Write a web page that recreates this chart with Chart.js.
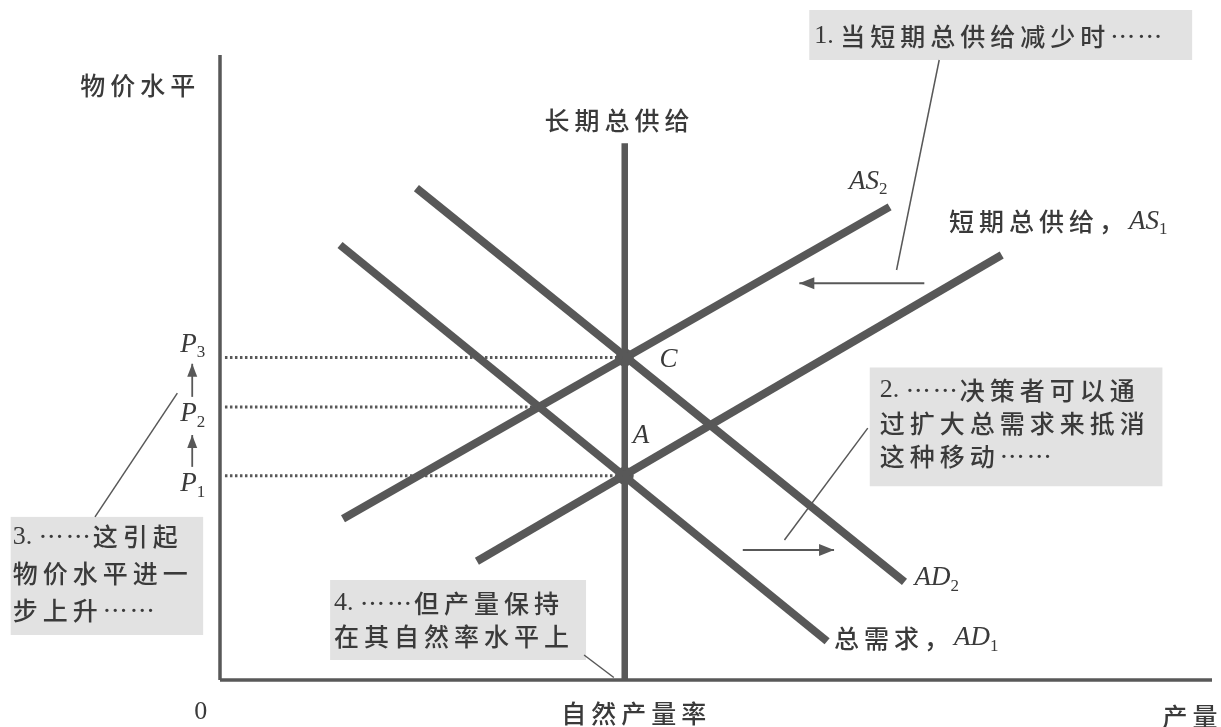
<!DOCTYPE html>
<html><head><meta charset="utf-8">
<script src="https://cdn.jsdelivr.net/npm/chart.js@4.4.1/dist/chart.umd.min.js"></script>
<style>html,body{margin:0;padding:0;background:#fff;}#wrap{width:1221px;height:727px;}</style>
</head><body><div id="wrap"><canvas id="c" width="1221" height="727"></canvas></div>
<script>
// ---- data (economic units: output on x, price level on y) ----
const AXIS_X = [{x:0,y:0},{x:100,y:0}];
const AXIS_Y = [{x:0,y:100},{x:0,y:0}];
const LRAS = [{x:40.8,y:85.9},{x:40.8,y:0}];
const AD1 = [{x:12.1,y:69.6},{x:61.2,y:6.2}];
const AD2 = [{x:19.8,y:78.7},{x:69.0,y:15.7}];
const AS1 = [{x:25.9,y:19.0},{x:78.8,y:68.0}];
const AS2 = [{x:12.4,y:25.8},{x:67.5,y:75.7}];
const P1_LINE = [{x:0.5,y:32.7},{x:40.8,y:32.7}];
const P2_LINE = [{x:0.5,y:43.7},{x:32.2,y:43.7}];
const P3_LINE = [{x:0.5,y:51.6},{x:40.8,y:51.6}];
const EQ_POINTS = [{x:40.8,y:32.7},{x:40.8,y:51.6}];
// arrows (tail -> head) and leader lines
const ARROW_AS = [{x:71.0,y:63.5},{x:58.4,y:63.5}];
const ARROW_AD = [{x:52.7,y:20.8},{x:61.9,y:20.8}];
const ARROW_P12 = [{x:-2.8,y:34.1},{x:-2.8,y:39.2}];
const ARROW_P23 = [{x:-2.8,y:45.3},{x:-2.8,y:50.6}];
const LEAD1 = [{x:72.5,y:99.2},{x:68.2,y:65.6}];
const LEAD2 = [{x:56.9,y:22.4},{x:65.3,y:40.3}];
const LEAD3 = [{x:-12.6,y:26.1},{x:-4.3,y:45.9}];
const LEAD4 = [{x:36.7,y:4.0},{x:39.7,y:0.4}];
// text boxes [x0, y0, x1, y1]
const BOXES = [[59.4,107.2,98.0,99.2],[65.5,50.0,95.0,31.0],[-21.1,26.1,-1.7,7.2],[11.1,16.0,36.9,3.2]];

const CJK = '"Noto Sans CJK SC", sans-serif';
const SERIF = '"Liberation Serif", "DejaVu Serif", serif';
const INK = '#3a3a3a', LINE = '#585858';

const seg = (t, kind) => ({t, kind: kind || 'cjk'});
const LABELS = [
  {x:-14.1, y:95.2, parts:[seg('物价水平')]},
  {x:32.7, y:89.6, parts:[seg('长期总供给')]},
  {x:59.9, y:103.0, parts:[seg('1. ','rm'),seg('当短期总供给减少时'),seg('……','el')]},
  {x:63.4, y:79.7, parts:[seg('AS','it'),seg('2','sub')]},
  {x:73.5, y:73.3, parts:[seg('短期总供给，'),seg('AS','it'),seg('1','sub')]},
  {x:44.3, y:51.2, parts:[seg('C','it')]},
  {x:41.6, y:39.0, parts:[seg('A','it')]},
  {x:66.5, y:46.4, parts:[seg('2. ','rm'),seg('……','el'),seg('决策者可以通')]},
  {x:66.5, y:41.1, parts:[seg('过扩大总需求来抵消')]},
  {x:66.5, y:35.7, parts:[seg('这种移动'),seg('……','el')]},
  {x:70.0, y:16.3, parts:[seg('AD','it'),seg('2','sub')]},
  {x:61.9, y:6.7, parts:[seg('总需求，'),seg('AD','it'),seg('1','sub')]},
  {x:-20.9, y:22.9, parts:[seg('3. ','rm'),seg('……','el'),seg('这引起')]},
  {x:-20.9, y:17.1, parts:[seg('物价水平进一')]},
  {x:-20.9, y:11.2, parts:[seg('步上升'),seg('……','el')]},
  {x:11.5, y:12.3, parts:[seg('4. ','rm'),seg('……','el'),seg('但产量保持')]},
  {x:11.5, y:6.9, parts:[seg('在其自然率水平上')]},
  {x:-4.0, y:53.6, parts:[seg('P','it'),seg('3','sub')]},
  {x:-4.0, y:42.5, parts:[seg('P','it'),seg('2','sub')]},
  {x:-4.0, y:31.3, parts:[seg('P','it'),seg('1','sub')]},
  {x:-2.6, y:-5.1, parts:[seg('0','rm')]},
  {x:34.4, y:-5.3, parts:[seg('自然产量率')]},
  {x:95.0, y:-5.9, parts:[seg('产量')]}
];

function line(data, w, extra) {
  return Object.assign({data, showLine:true, borderColor:LINE, borderWidth:w, pointRadius:0,
    fill:false, clip:false, borderCapStyle:'butt'}, extra || {});
}

const annot = {
  id:'annot',
  beforeDatasetsDraw(chart) {
    const {ctx} = chart, sx = chart.scales.x, sy = chart.scales.y;
    ctx.save();
    ctx.fillStyle = '#e2e2e2';
    BOXES.forEach(b => {
      const x0 = sx.getPixelForValue(b[0]), y0 = sy.getPixelForValue(b[1]);
      const x1 = sx.getPixelForValue(b[2]), y1 = sy.getPixelForValue(b[3]);
      ctx.fillRect(x0, y0, x1 - x0, y1 - y0);
    });
    ctx.restore();
  },
  afterDatasetsDraw(chart) {
    const {ctx} = chart, sx = chart.scales.x, sy = chart.scales.y;
    ctx.save();
    [[ARROW_AS,15,6],[ARROW_AD,15,6],[ARROW_P12,13,5],[ARROW_P23,13,5]].forEach(([a,len,half]) => {
      const tx = sx.getPixelForValue(a[0].x), ty = sy.getPixelForValue(a[0].y);
      const hx = sx.getPixelForValue(a[1].x), hy = sy.getPixelForValue(a[1].y);
      const ang = Math.atan2(hy - ty, hx - tx);
      ctx.fillStyle = LINE;
      ctx.beginPath();
      ctx.moveTo(hx, hy);
      ctx.lineTo(hx - len*Math.cos(ang) + half*Math.sin(ang), hy - len*Math.sin(ang) - half*Math.cos(ang));
      ctx.lineTo(hx - len*Math.cos(ang) - half*Math.sin(ang), hy - len*Math.sin(ang) + half*Math.cos(ang));
      ctx.closePath(); ctx.fill();
    });
    ctx.fillStyle = INK;
    ctx.textBaseline = 'middle';
    LABELS.forEach(L => {
      let px = sx.getPixelForValue(L.x);
      const py = sy.getPixelForValue(L.y);
      L.parts.forEach(p => {
        let font, dy = 0, ls = '0px';
        if (p.kind === 'cjk') { font = '500 25px ' + CJK; ls = '5px'; }
        else if (p.kind === 'el') { font = '25px ' + CJK; ls = '2px'; dy = 0; }
        else if (p.kind === 'it') { font = 'italic 27px ' + SERIF; }
        else if (p.kind === 'sub') { font = '17px ' + SERIF; dy = 8; }
        else { font = '26px ' + SERIF; }
        ctx.font = font;
        ctx.letterSpacing = ls;
        ctx.fillText(p.t, px, py + dy);
        px += ctx.measureText(p.t).width;
      });
    });
    ctx.restore();
  }
};

new Chart(document.getElementById('c'), {
  type:'scatter',
  data:{datasets:[
    line(AXIS_Y, 3.5), line(AXIS_X, 3.5),
    line(P1_LINE, 3, {borderDash:[2.5,2.5]}), line(P2_LINE, 3, {borderDash:[2.5,2.5]}), line(P3_LINE, 3, {borderDash:[2.5,2.5]}),
    line(AD1, 8), line(AD2, 8), line(AS1, 8), line(AS2, 8), line(LRAS, 6.5),
    line(ARROW_AS, 2), line(ARROW_AD, 2), line(ARROW_P12, 1.8), line(ARROW_P23, 1.8),
    line(LEAD1, 1.5), line(LEAD2, 1.5), line(LEAD3, 1.5), line(LEAD4, 1.5),
    {data:EQ_POINTS, showLine:false, pointRadius:9, pointBackgroundColor:LINE, pointBorderWidth:0, clip:false}
  ]},
  options:{
    responsive:false, animation:false,
    layout:{padding:{left:220, right:8, top:55, bottom:47}},
    scales:{
      x:{type:'linear', min:0, max:100, display:false},
      y:{type:'linear', min:0, max:100, display:false}
    },
    plugins:{legend:{display:false}, tooltip:{enabled:false}}
  },
  plugins:[annot]
});
</script></body></html>
